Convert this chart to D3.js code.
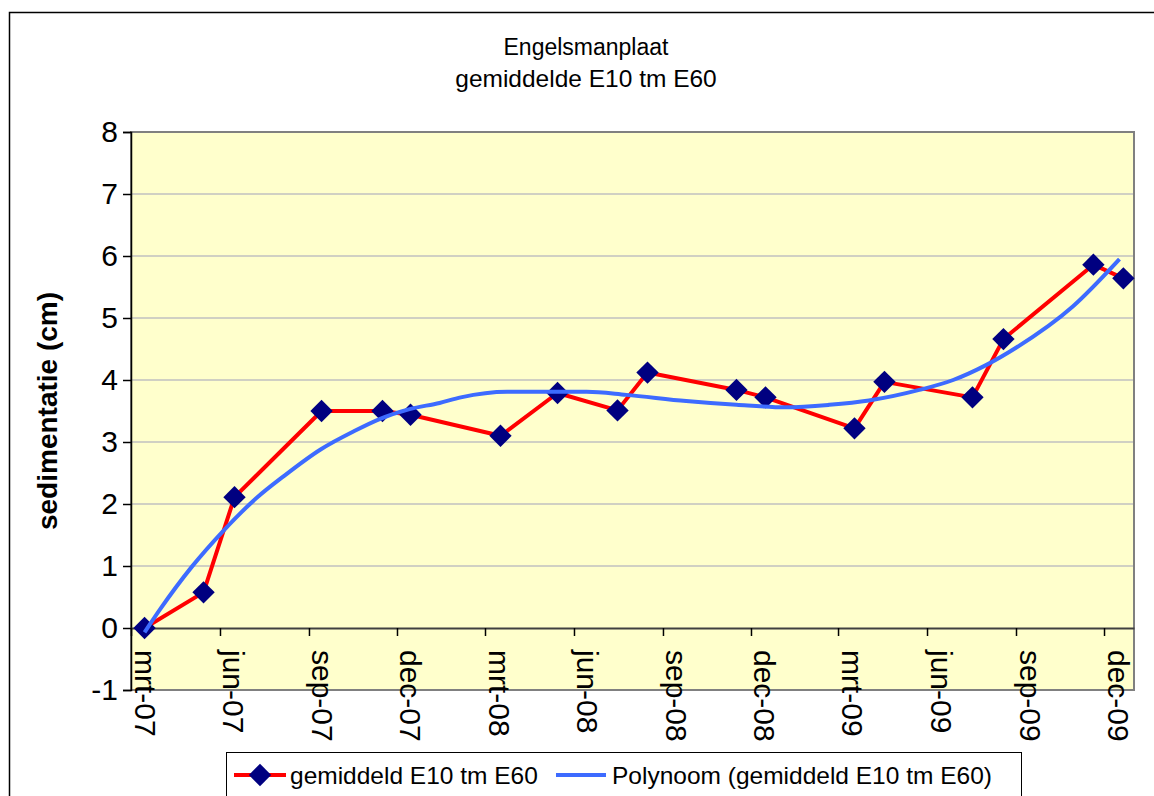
<!DOCTYPE html>
<html>
<head>
<meta charset="utf-8">
<script src="https://cdn.jsdelivr.net/npm/d3@7"></script>
<style>
  html, body { margin: 0; padding: 0; background: #fff; }
  svg { display: block; font-family: 'Liberation Sans', Arial, sans-serif; }
</style>
</head>
<body>
<svg id="chart" width="1154" height="796"></svg>
<script>
'use strict';

// meetdata gemiddeld E10 tm E60 (cm)
const meet_datums = [
  '2007-03-15', '2007-05-15', '2007-06-16', '2007-09-14', '2007-11-16', '2007-12-15',
  '2008-03-17', '2008-05-15', '2008-07-16', '2008-08-16', '2008-11-16', '2008-12-16',
  '2009-03-18', '2009-04-18', '2009-07-18', '2009-08-19', '2009-11-20', '2009-12-21'
];
const sedimentatie = [
  0, 0.575, 2.11, 3.5, 3.5, 3.44,
  3.10, 3.79, 3.51, 4.12, 3.84, 3.72,
  3.22, 3.97, 3.72, 4.66, 5.86, 5.64
];

const trend_datums = [
  '2007-03-15', '2007-03-31', '2007-05-03', '2007-06-04', '2007-07-09', '2007-08-06',
  '2007-09-13', '2007-10-17', '2007-11-13', '2007-12-14', '2008-01-14', '2008-02-05',
  '2008-03-24', '2008-06-14', '2008-07-25', '2008-09-25', '2008-11-16', '2009-01-06',
  '2009-02-20', '2009-04-02', '2009-05-24', '2009-06-28', '2009-08-01', '2009-09-01',
  '2009-10-30', '2009-12-17'
];
const trend_waarden = [
  -0.07, 0.30, 0.99, 1.56, 2.10, 2.45,
  2.88, 3.17, 3.37, 3.53, 3.63, 3.72,
  3.81, 3.81, 3.76, 3.66, 3.60, 3.56,
  3.60, 3.67, 3.84, 4.00, 4.24, 4.52,
  5.19, 5.95
];

const tick_datums = [
  '2007-03-01', '2007-06-01', '2007-09-01', '2007-12-01',
  '2008-03-01', '2008-06-01', '2008-09-01', '2008-12-01',
  '2009-03-01', '2009-06-01', '2009-09-01', '2009-12-01'
];
const tick_labels = [
  'mrt-07', 'jun-07', 'sep-07', 'dec-07',
  'mrt-08', 'jun-08', 'sep-08', 'dec-08',
  'mrt-09', 'jun-09', 'sep-09', 'dec-09'
];
const y_ticks = [-1, 0, 1, 2, 3, 4, 5, 6, 7, 8];

const parse = d3.timeParse('%Y-%m-%d');
const punten = meet_datums.map((d, i) => ({ date: parse(d), value: sedimentatie[i] }));
const trend = trend_datums.map((d, i) => ({ date: parse(d), value: trend_waarden[i] }));

const svg = d3.select('#chart');

const plot_left = 131;
const plot_right = 1134;
const plot_top = 132;
const plot_bottom = 690;

// chart area frame (runs off the picture right and bottom)
svg.append('rect')
  .attr('x', 9.5)
  .attr('y', 12.5)
  .attr('width', 1200)
  .attr('height', 900)
  .attr('fill', '#fff')
  .attr('stroke', '#000')
  .attr('stroke-width', 1.5);

const x = d3.scaleTime()
  .domain([parse('2007-03-01'), parse('2010-01-01')])
  .range([plot_left, plot_right]);
const y = d3.scaleLinear()
  .domain([-1, 8])
  .range([plot_bottom, plot_top]);

// plot area
svg.append('rect')
  .attr('x', plot_left)
  .attr('y', plot_top)
  .attr('width', plot_right - plot_left)
  .attr('height', plot_bottom - plot_top)
  .attr('fill', '#ffffcc');

// GRID
svg.append('g')
  .selectAll('line')
  .data(y_ticks.filter(d => d > 0 && d < 8))
  .enter()
  .append('line')
  .attr('x1', plot_left)
  .attr('x2', plot_right)
  .attr('y1', d => y(d))
  .attr('y2', d => y(d))
  .attr('stroke', '#c0c0c0')
  .attr('stroke-width', 1.5);

svg.append('rect')
  .attr('x', plot_left)
  .attr('y', plot_top)
  .attr('width', plot_right - plot_left)
  .attr('height', plot_bottom - plot_top)
  .attr('fill', 'none')
  .attr('stroke', '#808080')
  .attr('stroke-width', 2);

// Y AXIS
const y_axis = svg.append('g')
  .attr('transform', `translate(${plot_left},0)`)
  .call(d3.axisLeft(y).tickValues(y_ticks).tickSize(8).tickPadding(5).tickFormat(d => String(d)));
y_axis.select('.domain').attr('stroke', '#000').attr('stroke-width', 1.5);
y_axis.selectAll('.tick line').attr('stroke', '#000').attr('stroke-width', 1.5);
y_axis.selectAll('text')
  .attr('font-family', "'Liberation Sans', Arial, sans-serif")
  .attr('font-size', 30)
  .attr('fill', '#000');

// X AXIS (crosses at 0)
const x_axis = svg.append('g')
  .attr('transform', `translate(0,${y(0)})`)
  .call(d3.axisBottom(x)
    .tickValues(tick_datums.map(parse))
    .tickSize(8)
    .tickSizeOuter(0)
    .tickFormat((d, i) => tick_labels[i]));
x_axis.select('.domain').attr('stroke', '#404040').attr('stroke-width', 2);
x_axis.selectAll('.tick line').attr('stroke', '#000').attr('stroke-width', 1.5);
x_axis.selectAll('text')
  .attr('font-family', "'Liberation Sans', Arial, sans-serif")
  .attr('font-size', 30)
  .attr('fill', '#000')
  .attr('text-anchor', 'start')
  .attr('transform', 'rotate(90)')
  .attr('x', 22)
  .attr('y', -3)
  .attr('dy', 0);

// SERIES
const line = d3.line()
  .x(d => x(d.date))
  .y(d => y(d.value));

svg.append('path')
  .datum(punten)
  .attr('fill', 'none')
  .attr('stroke', '#ff0000')
  .attr('stroke-width', 4)
  .attr('stroke-linejoin', 'round')
  .attr('d', line);

const diamond = d3.symbol(d3.symbolSquare, 250);
svg.append('g')
  .selectAll('path')
  .data(punten)
  .enter()
  .append('path')
  .attr('d', diamond)
  .attr('transform', d => `translate(${x(d.date)},${y(d.value)}) rotate(45)`)
  .attr('fill', '#000080');

svg.append('path')
  .datum(trend)
  .attr('fill', 'none')
  .attr('stroke', '#3d6bff')
  .attr('stroke-width', 4)
  .attr('stroke-linejoin', 'round')
  .attr('d', line.curve(d3.curveMonotoneX));

// TITLES
svg.append('text')
  .attr('x', 586)
  .attr('y', 55)
  .attr('text-anchor', 'middle')
  .attr('font-size', 23)
  .text('Engelsmanplaat');
svg.append('text')
  .attr('x', 586)
  .attr('y', 87)
  .attr('text-anchor', 'middle')
  .attr('font-size', 24.5)
  .text('gemiddelde E10 tm E60');

svg.append('text')
  .attr('transform', `translate(57,${(plot_top + plot_bottom) / 2}) rotate(-90)`)
  .attr('text-anchor', 'middle')
  .attr('font-size', 28)
  .attr('font-weight', 'bold')
  .text('sedimentatie (cm)');

// LEGEND
const legend = svg.append('g');
legend.append('rect')
  .attr('x', 226.5)
  .attr('y', 752.5)
  .attr('width', 795)
  .attr('height', 80)
  .attr('fill', '#fff')
  .attr('stroke', '#000')
  .attr('stroke-width', 1);

const legend_y = 775;
legend.append('line')
  .attr('x1', 234).attr('x2', 286)
  .attr('y1', legend_y).attr('y2', legend_y)
  .attr('stroke', '#ff0000')
  .attr('stroke-width', 4);
legend.append('path')
  .attr('d', diamond)
  .attr('transform', `translate(260,${legend_y}) rotate(45)`)
  .attr('fill', '#000080');
legend.append('text')
  .attr('x', 290)
  .attr('y', legend_y + 9)
  .attr('font-size', 24.5)
  .text('gemiddeld E10 tm E60');

legend.append('line')
  .attr('x1', 556).attr('x2', 606)
  .attr('y1', legend_y).attr('y2', legend_y)
  .attr('stroke', '#3d6bff')
  .attr('stroke-width', 4);
legend.append('text')
  .attr('x', 612)
  .attr('y', legend_y + 9)
  .attr('font-size', 24.5)
  .text('Polynoom (gemiddeld E10 tm E60)');
</script>
</body>
</html>
